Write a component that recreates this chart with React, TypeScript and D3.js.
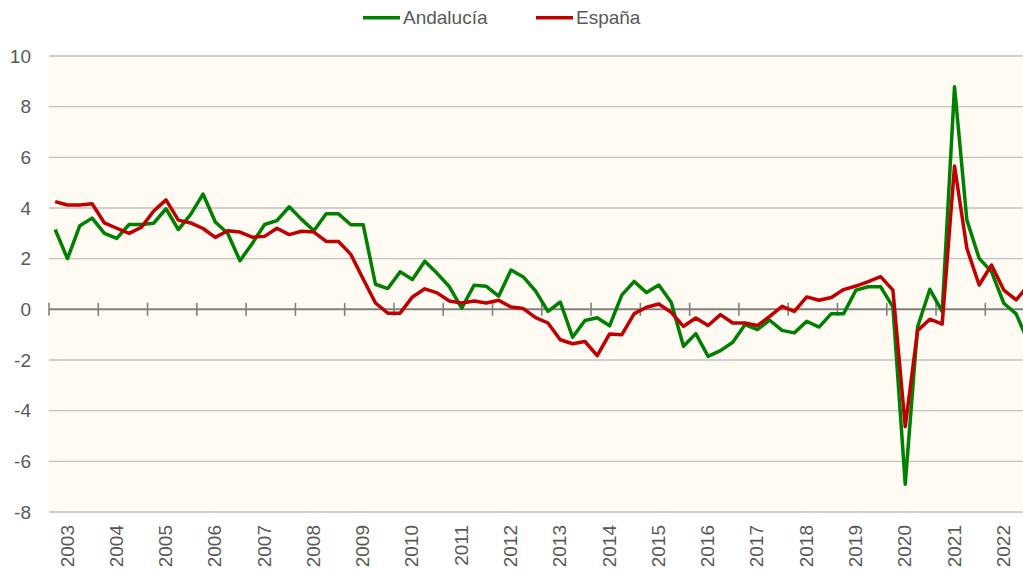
import React from 'react'
import * as d3 from 'd3'

// quarterly rate, 2003 Q1 .. 2022 Q4
const years = d3.range(2003, 2023).map(String)

const andalucia = [
  3.15, 2.0, 3.3, 3.6, 3.0, 2.8, 3.35, 3.35, 3.4, 3.97,
  3.15, 3.75, 4.55, 3.45, 3.0, 1.92, 2.6, 3.35, 3.5, 4.05,
  3.55, 3.1, 3.77, 3.77, 3.34, 3.34, 0.99, 0.82, 1.48, 1.18,
  1.9, 1.42, 0.89, 0.05, 0.95, 0.91, 0.52, 1.55, 1.28, 0.72,
  -0.08, 0.29, -1.1, -0.44, -0.33, -0.65, 0.57, 1.1, 0.66, 0.96,
  0.28, -1.46, -0.96, -1.86, -1.63, -1.3, -0.6, -0.8, -0.43, -0.83,
  -0.93, -0.47, -0.7, -0.17, -0.17, 0.76, 0.89, 0.89, 0.1, -6.9,
  -0.7, 0.79, -0.09, 8.79, 3.53, 2.01, 1.49, 0.24, -0.18, -1.3,
]

const espana = [
  4.25, 4.12, 4.12, 4.17, 3.41, 3.2, 3.0, 3.24, 3.88, 4.32,
  3.52, 3.41, 3.19, 2.84, 3.1, 3.05, 2.85, 2.88, 3.2, 2.95,
  3.08, 3.05, 2.68, 2.68, 2.17, 1.2, 0.25, -0.15, -0.15, 0.49,
  0.81, 0.65, 0.33, 0.25, 0.33, 0.25, 0.36, 0.09, 0.03, -0.33,
  -0.54, -1.2, -1.36, -1.27, -1.83, -0.97, -1.0, -0.17, 0.08, 0.21,
  -0.12, -0.67, -0.34, -0.64, -0.21, -0.54, -0.54, -0.64, -0.28, 0.12,
  -0.08, 0.49, 0.36, 0.47, 0.78, 0.92, 1.09, 1.29, 0.76, -4.63,
  -0.84, -0.39, -0.58, 5.66, 2.41, 0.96, 1.75, 0.76, 0.37, 0.95,
]

const yTicks = [10, 8, 6, 4, 2, 0, -2, -4, -6, -8]

const series = [
  { name: 'Andalucía', values: andalucia, color: '#008000' },
  { name: 'España', values: espana, color: '#c00000' },
]

const W = 1023
const H = 571
const left = 49
const top = 56
const bottom = 512
const qw = 12.32
const font = '"Liberation Sans", Arial, sans-serif'
const textColor = '#595959'

export default function App() {
  const n = andalucia.length
  const x = d3.scaleLinear().domain([0, n]).range([left, left + n * qw])
  const y = d3.scaleLinear().domain([-8, 10]).range([bottom, top])

  const line = d3
    .line<number>()
    .x((_, i) => x(i + 0.5))
    .y((d) => y(d))

  return (
    <svg
      width={W}
      height={H}
      style={{ position: 'absolute', left: 0, top: 0, display: 'block', background: '#fff' }}
      fontFamily={font}
    >
      <defs>
        <clipPath id="plot">
          <rect x={left} y={0} width={W - left} height={H} />
        </clipPath>
      </defs>

      <rect x={left} y={top} width={x(n) - left} height={bottom - top} fill="#fffaf2" />

      {yTicks.filter((t) => t !== 0).map((t) => (
        <line key={t} x1={left} x2={x(n)} y1={y(t)} y2={y(t)} stroke="#c0c0c0" strokeWidth={1.3} />
      ))}

      {yTicks.map((t) => (
        <text
          key={'l' + t}
          x={31}
          y={y(t)}
          dy="0.35em"
          textAnchor="end"
          fontSize={19}
          fill={textColor}
        >
          {t}
        </text>
      ))}

      {/* zero axis with year ticks */}
      <line x1={left} x2={x(n)} y1={y(0)} y2={y(0)} stroke="#808080" strokeWidth={2} />
      {years.map((yr, k) => (
        <line
          key={'t' + yr}
          x1={x(k * 4)}
          x2={x(k * 4)}
          y1={y(0) - 6.5}
          y2={y(0) + 6.5}
          stroke="#808080"
          strokeWidth={1.6}
        />
      ))}

      <g clipPath="url(#plot)">
        {series.map((s) => (
          <path
            key={s.name}
            d={line(s.values) ?? ''}
            fill="none"
            stroke={s.color}
            strokeWidth={3.5}
            strokeLinejoin="round"
          />
        ))}
      </g>

      {years.map((yr, k) => {
        const cx = x(k * 4) + 24.5
        return (
          <text
            key={'y' + yr}
            transform={`translate(${cx},${bottom + 13}) rotate(-90)`}
            textAnchor="end"
            fontSize={19}
            fill={textColor}
          >
            {yr}
          </text>
        )
      })}

      {/* legend */}
      {series.map((s, i) => {
        const lx = i === 0 ? 363 : 536
        return (
          <g key={'lg' + s.name}>
            <line x1={lx} x2={lx + 37} y1={17.7} y2={17.7} stroke={s.color} strokeWidth={3.5} />
            <text x={lx + 40} y={17.7} dy="0.35em" fontSize={19} fill={textColor}>
              {s.name}
            </text>
          </g>
        )
      })}
    </svg>
  )
}
